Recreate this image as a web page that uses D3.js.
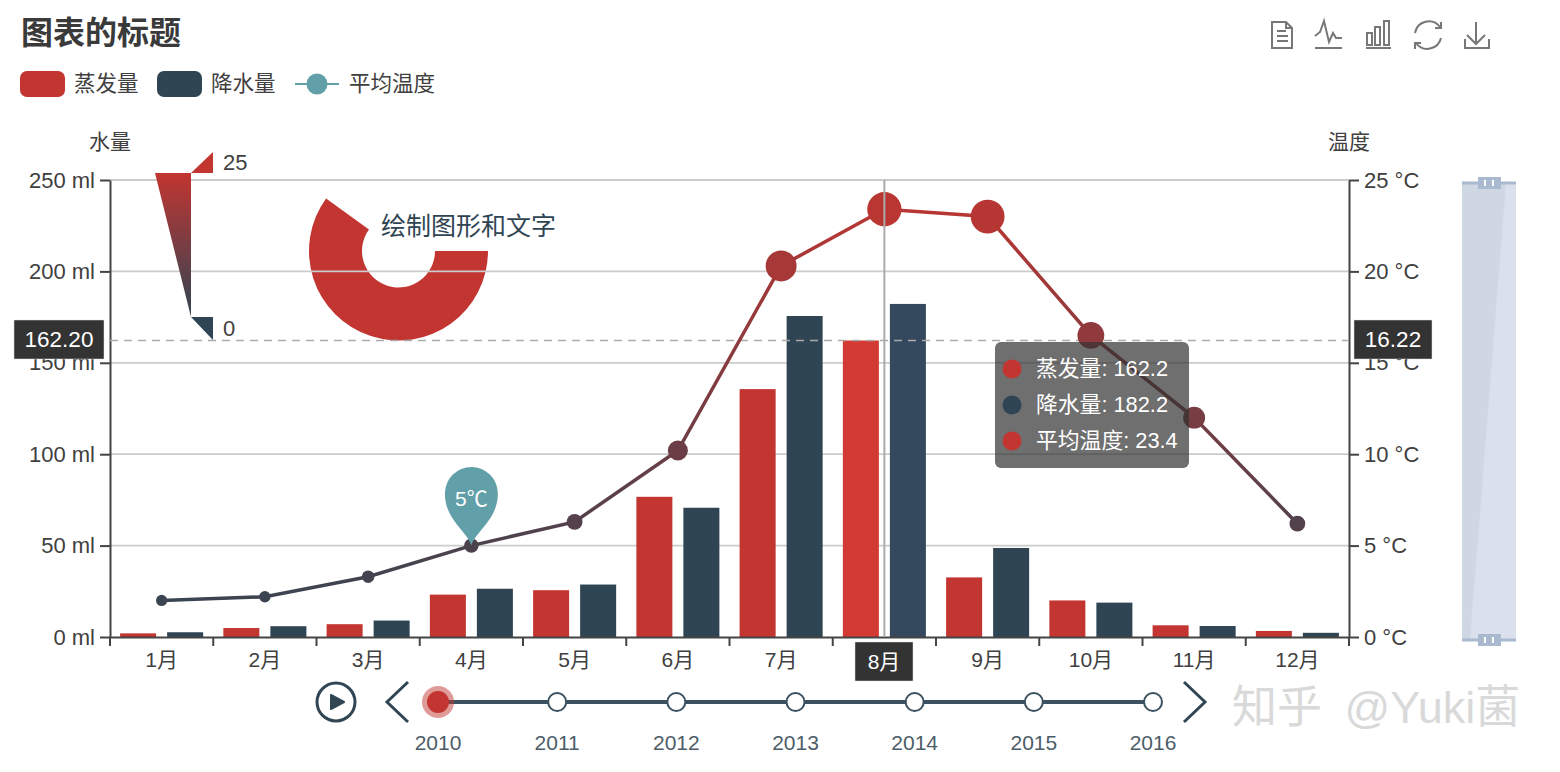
<!DOCTYPE html>
<html>
<head>
<meta charset="utf-8">
<script src="https://cdn.jsdelivr.net/npm/d3@7"></script>
<style>
  html, body { margin: 0; padding: 0; background: #fff; }
  svg { display: block; }
  text { font-family: "Liberation Sans", "Noto Sans CJK SC", sans-serif; }
</style>
</head>
<body>
<div id="screen"></div>
<script>
(function(window) {
  var months = ['1月', '2月', '3月', '4月', '5月', '6月', '7月', '8月', '9月', '10月', '11月', '12月'];
  var evaporation = [2.0, 4.9, 7.0, 23.2, 25.6, 76.7, 135.6, 162.2, 32.6, 20.0, 6.4, 3.3];
  var rainfall = [2.6, 5.9, 9.0, 26.4, 28.7, 70.7, 175.6, 182.2, 48.7, 18.8, 6.0, 2.3];
  var temperature = [2.0, 2.2, 3.3, 5.0, 6.3, 10.2, 20.3, 23.4, 23.0, 16.5, 12.0, 6.2];
  var waterTicks = [0, 50, 100, 150, 200, 250];
  var tempTicks = [0, 5, 10, 15, 20, 25];
  var years = [2010, 2011, 2012, 2013, 2014, 2015, 2016];
  var seriesNames = ['蒸发量', '降水量', '平均温度'];

  var RED = '#c23531', BLUE = '#2f4554', TEAL = '#61a0a8', SLATE = '#3c5160';
  var left = 110, right = 1349, top = 180, bottom = 637;
  var textColor = '#404040';

  var svg = d3.select('#screen').append('svg').attr('width', 1560).attr('height', 772);

  var x = d3.scaleBand().domain(months).range([left, right]);
  var inner = d3.scaleBand().domain(['evaporation', 'rainfall'])
    .range([0, x.bandwidth()]).paddingInner(0.234).paddingOuter(0.215);
  var yWater = d3.scaleLinear().domain([0, 250]).range([bottom, top]);
  var yTemp = d3.scaleLinear().domain([0, 25]).range([bottom, top]);
  var tempColor = d3.scaleLinear().domain([0, 25]).range([BLUE, RED]);
  var tempSize = d3.scaleLinear().domain([0, 25]).range([4.5, 18]);

  var defs = svg.append('defs');
  function gradient(id, x1, y1, x2, y2, from, to) {
    var g = defs.append('linearGradient').attr('id', id)
      .attr('gradientUnits', 'userSpaceOnUse')
      .attr('x1', x1).attr('y1', y1).attr('x2', x2).attr('y2', y2);
    g.append('stop').attr('offset', 0).attr('stop-color', from);
    g.append('stop').attr('offset', 1).attr('stop-color', to);
  }
  gradient('lineGrad', 0, yTemp(0), 0, yTemp(25), BLUE, RED);
  gradient('pieceGrad', 0, 173, 0, 317, RED, BLUE);

  function label(parent, tx, ty, str, size, color, anchor, weight) {
    return parent.append('text')
      .attr('x', tx).attr('y', ty)
      .attr('dy', '0.34em')
      .attr('font-size', size)
      .attr('fill', color)
      .attr('text-anchor', anchor || 'start')
      .attr('font-weight', weight || 'normal')
      .text(str);
  }

  // title and legend
  label(svg, 21, 33, '图表的标题', 32, '#3a3a3a', 'start', 'bold');

  svg.append('rect').attr('x', 20).attr('y', 71).attr('width', 45).attr('height', 26).attr('rx', 7).attr('fill', RED);
  label(svg, 74, 84, seriesNames[0], 21.5, textColor);
  svg.append('rect').attr('x', 157).attr('y', 71).attr('width', 45).attr('height', 26).attr('rx', 7).attr('fill', BLUE);
  label(svg, 211, 84, seriesNames[1], 21.5, textColor);
  svg.append('line').attr('x1', 295).attr('x2', 339).attr('y1', 84).attr('y2', 84).attr('stroke', TEAL).attr('stroke-width', 2);
  svg.append('circle').attr('cx', 317).attr('cy', 84).attr('r', 10.5).attr('fill', TEAL);
  label(svg, 349, 84, seriesNames[2], 21.5, textColor);

  // toolbox
  var tools = svg.append('g').attr('fill', 'none').attr('stroke', '#777').attr('stroke-width', 2);
  tools.append('path').attr('d', 'M1272 22H1286L1292 28V48H1272ZM1286 22V28H1292M1277 31H1286M1277 36H1288M1277 41H1288');
  tools.append('path').attr('d', 'M1315 36L1320 32L1324 21L1329 42L1333 33L1336 38H1342M1315 48H1342');
  tools.append('path').attr('d', 'M1367 33h5v12h-5zM1375 27h5v18h-5zM1384 21h5v24h-5zM1366 48H1391');
  tools.append('path').attr('d', 'M1415 33A14 14 0 0 1 1440 27M1441 22V28H1435M1441 38A14 14 0 0 1 1416 43M1415 49V43H1421');
  tools.append('path').attr('d', 'M1476 22V44M1467 35L1476 44L1485 35M1465 39V48H1489V39');

  // graphic ring and text behind the grid
  var ring = d3.arc().innerRadius(36.5).outerRadius(89.5)
    .startAngle(Math.PI / 2).endAngle(306 * Math.PI / 180);
  svg.append('path').attr('transform', 'translate(398.5,251)').attr('d', ring()).attr('fill', RED);
  label(svg, 381, 226, '绘制图形和文字', 25, BLUE);

  // grid
  svg.append('g').selectAll('line').data(waterTicks.slice(1)).enter().append('line')
    .attr('x1', left).attr('x2', right)
    .attr('y1', function(d) { return yWater(d); })
    .attr('y2', function(d) { return yWater(d); })
    .attr('stroke', '#ccc').attr('stroke-width', 1.8);

  // bars
  function drawBars(values, key, color, hot) {
    svg.append('g').selectAll('rect').data(values).enter().append('rect')
      .attr('x', function(d, i) { return x(months[i]) + inner(key); })
      .attr('width', inner.bandwidth())
      .attr('y', function(d) { return yWater(d); })
      .attr('height', function(d) { return bottom - yWater(d); })
      .attr('fill', function(d, i) { return i === 7 ? hot : color; });
  }
  drawBars(evaporation, 'evaporation', RED, '#d33a33');
  drawBars(rainfall, 'rainfall', BLUE, '#34495e');

  // axes
  function styleAxis(g) {
    g.selectAll('path,line').attr('stroke', '#444').attr('stroke-width', 2);
    g.selectAll('text').attr('font-size', 21).attr('fill', textColor);
    g.attr('font-family', null);
  }
  function styleValues(g) {
    g.selectAll('text').attr('font-size', 22);
  }
  svg.append('g').attr('transform', 'translate(' + left + ',0)')
    .call(d3.axisLeft(yWater).tickValues(waterTicks).tickSize(10).tickSizeOuter(0).tickPadding(5)
      .tickFormat(function(d) { return d + ' ml'; }))
    .call(styleAxis).call(styleValues);
  svg.append('g').attr('transform', 'translate(' + right + ',0)')
    .call(d3.axisRight(yTemp).tickValues(tempTicks).tickSize(10).tickSizeOuter(0).tickPadding(5)
      .tickFormat(function(d) { return d + ' °C'; }))
    .call(styleAxis).call(styleValues);
  var xAxis = svg.append('g').attr('transform', 'translate(0,' + bottom + ')')
    .call(d3.axisBottom(x).tickSize(0).tickSizeOuter(0).tickPadding(15))
    .call(styleAxis);
  xAxis.selectAll('g.edge').data(d3.range(months.length + 1)).enter().append('line')
    .attr('x1', function(d) { return left + d * x.step(); })
    .attr('x2', function(d) { return left + d * x.step(); })
    .attr('y1', 0).attr('y2', 9)
    .attr('stroke', '#444').attr('stroke-width', 2);

  label(svg, 110, 142, '水量', 21, textColor, 'middle');
  label(svg, 1349, 142, '温度', 21, textColor, 'middle');

  // axis pointers
  var hoverX = x(months[7]) + x.bandwidth() / 2;
  svg.append('line').attr('x1', left).attr('x2', right)
    .attr('y1', yWater(162.2)).attr('y2', yWater(162.2))
    .attr('stroke', '#aaa').attr('stroke-width', 1.5).attr('stroke-dasharray', '8,6');

  // temperature line
  var tempLine = d3.line()
    .x(function(d, i) { return x(months[i]) + x.bandwidth() / 2; })
    .y(function(d) { return yTemp(d); });
  svg.append('path').attr('d', tempLine(temperature))
    .attr('fill', 'none').attr('stroke', 'url(#lineGrad)').attr('stroke-width', 3.5);
  svg.append('g').selectAll('circle').data(temperature).enter().append('circle')
    .attr('cx', function(d, i) { return x(months[i]) + x.bandwidth() / 2; })
    .attr('cy', function(d) { return yTemp(d); })
    .attr('r', function(d) { return tempSize(d); })
    .attr('fill', function(d) { return tempColor(d); });

  svg.append('line').attr('x1', hoverX).attr('x2', hoverX)
    .attr('y1', top).attr('y2', bottom)
    .attr('stroke', '#aaa').attr('stroke-width', 2);

  // pin on 4月
  var pinX = x(months[3]) + x.bandwidth() / 2, pinY = yTemp(temperature[3]);
  svg.append('path')
    .attr('transform', 'translate(' + pinX + ',' + pinY + ')')
    .attr('d', 'M0 0C-4 -14 -26.5 -26 -26.5 -52A26.5 26.5 0 1 1 26.5 -52C26.5 -26 4 -14 0 0Z')
    .attr('fill', TEAL);
  label(svg, pinX, pinY - 47, '5℃', 21, '#fff', 'middle');

  // visual map
  var vm = svg.append('g');
  vm.append('path').attr('d', 'M155 173H191V317Z').attr('fill', 'url(#pieceGrad)');
  vm.append('path').attr('d', 'M191 173L213 152V173Z').attr('fill', RED);
  vm.append('path').attr('d', 'M191 317H213V340Z').attr('fill', BLUE);
  label(vm, 223, 163, '25', 22, textColor);
  label(vm, 223, 329, '0', 22, textColor);

  // tooltip
  var tip = svg.append('g');
  tip.append('rect').attr('x', 995).attr('y', 342).attr('width', 194).attr('height', 126).attr('rx', 6)
    .attr('fill', 'rgba(50,50,50,0.7)');
  var tipValues = [evaporation[7], rainfall[7], temperature[7]];
  var tipColors = [RED, BLUE, RED];
  seriesNames.forEach(function(name, i) {
    var rowY = 369 + i * 36;
    tip.append('circle').attr('cx', 1012).attr('cy', rowY).attr('r', 9.5).attr('fill', tipColors[i]);
    label(tip, 1036, rowY, name + ': ' + tipValues[i], 21.8, '#fff');
  });

  // pointer labels
  function pointerLabel(px, py, w, h, str, size) {
    svg.append('rect').attr('x', px).attr('y', py).attr('width', w).attr('height', h)
      .attr('fill', '#333').attr('stroke', '#ddd').attr('stroke-width', 0.5);
    label(svg, px + w / 2, py + h / 2, str, size, '#fff', 'middle');
  }
  pointerLabel(14, 320, 90, 39, '162.20', 22.5);
  pointerLabel(1354, 320, 78, 39, '16.22', 22.5);
  pointerLabel(855, 642, 58, 39, months[7], 21);

  // timeline
  var timeX = d3.scalePoint().domain(years).range([438, 1153]);
  var timeY = 702;
  var timeline = svg.append('g');
  timeline.append('line').attr('x1', timeX(2010)).attr('x2', timeX(2016))
    .attr('y1', timeY).attr('y2', timeY)
    .attr('stroke', SLATE).attr('stroke-width', 4);
  timeline.append('circle').attr('cx', 336).attr('cy', timeY).attr('r', 19)
    .attr('fill', 'none').attr('stroke', '#304654').attr('stroke-width', 3);
  timeline.append('path').attr('d', 'M331 695L344 702L331 709Z').attr('fill', '#304654')
    .attr('stroke', '#304654').attr('stroke-width', 2).attr('stroke-linejoin', 'round');
  timeline.append('path').attr('d', 'M408 682L387 702L408 722M1184 682L1205 702L1184 722')
    .attr('fill', 'none').attr('stroke', '#304654').attr('stroke-width', 3);
  timeline.selectAll('circle.node').data(years.slice(1)).enter().append('circle')
    .attr('class', 'node')
    .attr('cx', function(d) { return timeX(d); })
    .attr('cy', timeY).attr('r', 9)
    .attr('fill', '#fff').attr('stroke', SLATE).attr('stroke-width', 2);
  timeline.append('circle').attr('cx', timeX(2010)).attr('cy', timeY).attr('r', 16).attr('fill', 'rgba(194,53,49,0.5)');
  timeline.append('circle').attr('cx', timeX(2010)).attr('cy', timeY).attr('r', 11).attr('fill', RED);
  timeline.selectAll('text').data(years).enter().append('text')
    .attr('x', function(d) { return timeX(d); })
    .attr('y', 743).attr('dy', '0.34em')
    .attr('text-anchor', 'middle').attr('font-size', 21).attr('fill', '#4d5d68')
    .text(function(d) { return d; });

  // data zoom
  var zoomBox = svg.append('g');
  zoomBox.append('rect').attr('x', 1462).attr('y', 183).attr('width', 54).attr('height', 457).attr('fill', '#dae1ec');
  zoomBox.append('path').attr('d', 'M1462 183H1506L1470 640H1462Z').attr('fill', '#cfd7e3');
  [183, 640].forEach(function(hy) {
    zoomBox.append('line').attr('x1', 1462).attr('x2', 1516).attr('y1', hy).attr('y2', hy)
      .attr('stroke', '#a9b9d0').attr('stroke-width', 3);
    zoomBox.append('rect').attr('x', 1478).attr('y', hy - 6).attr('width', 23).attr('height', 12).attr('fill', '#a9b9d0');
    zoomBox.append('rect').attr('x', 1484).attr('y', hy - 3).attr('width', 2).attr('height', 6).attr('fill', '#fff');
    zoomBox.append('rect').attr('x', 1492).attr('y', hy - 3).attr('width', 2).attr('height', 6).attr('fill', '#fff');
  });

  // watermark
  label(svg, 1232, 708, '知乎 @Yuki菌', 45, '#d9d9d9').attr('word-spacing', 10);
})(window);
</script>
</body>
</html>
